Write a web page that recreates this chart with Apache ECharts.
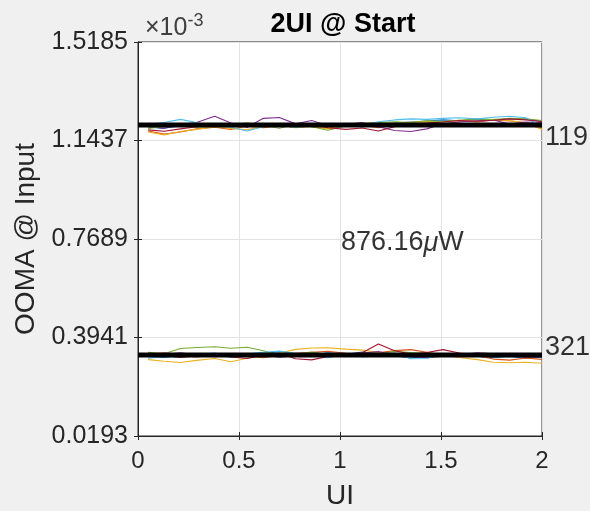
<!DOCTYPE html>
<html><head><meta charset="utf-8">
<script src="https://cdn.jsdelivr.net/npm/echarts@6/dist/echarts.min.js"></script>
<style>html,body{margin:0;padding:0;background:#f0f0f0;}#c{width:590px;height:511px;}</style>
</head><body><div id="c"></div>
<script>
// x positions (UI)
const xs = [0.05,0.13,0.21,0.29,0.38,0.46,0.54,0.62,0.70,0.78,0.86,0.94,1.03,1.11,1.19,1.27,1.35,1.43,1.51,1.59,1.68,1.76,1.84,1.92,2.00];
// y tick labels (x10^-3)
const yTicks = [0.0193, 0.3941, 0.7689, 1.1437, 1.5185];
const xTicks = [0, 0.5, 1, 1.5, 2];
const colors = ['#0072BD','#D95319','#EDB120','#7E2F8E','#77AC30','#4DBEEE','#A2142F'];
// upper band traces (x10^-3)
const upBlue   = [1.195,1.190,1.200,1.208,1.204,1.196,1.200,1.206,1.202,1.193,1.199,1.205,1.200,1.196,1.203,1.210,1.214,1.218,1.222,1.219,1.224,1.221,1.227,1.225,1.216];
const upOrange = [1.180,1.168,1.176,1.188,1.194,1.186,1.198,1.192,1.200,1.205,1.196,1.190,1.199,1.203,1.192,1.206,1.212,1.209,1.216,1.219,1.214,1.222,1.218,1.212,1.190];
const upYellow = [1.176,1.165,1.178,1.186,1.196,1.190,1.184,1.199,1.203,1.192,1.198,1.188,1.202,1.207,1.212,1.208,1.213,1.217,1.214,1.221,1.218,1.224,1.220,1.210,1.186];
const upPurple = [1.198,1.190,1.205,1.212,1.236,1.210,1.193,1.228,1.231,1.207,1.220,1.200,1.205,1.212,1.196,1.182,1.178,1.188,1.208,1.214,1.219,1.222,1.206,1.214,1.212];
const upGreen  = [1.190,1.197,1.202,1.194,1.198,1.204,1.210,1.201,1.190,1.206,1.196,1.183,1.200,1.208,1.212,1.215,1.212,1.219,1.216,1.221,1.226,1.223,1.228,1.226,1.220];
const upCyan   = [1.206,1.212,1.224,1.212,1.198,1.194,1.180,1.196,1.202,1.194,1.200,1.197,1.204,1.201,1.215,1.222,1.226,1.224,1.228,1.230,1.226,1.232,1.236,1.230,1.196];
const upRed    = [1.184,1.179,1.188,1.196,1.202,1.207,1.199,1.208,1.197,1.202,1.207,1.192,1.186,1.191,1.180,1.196,1.204,1.210,1.214,1.220,1.217,1.221,1.226,1.222,1.216];
// lower band traces (x10^-3)
const loBlue   = [0.322,0.318,0.328,0.333,0.326,0.320,0.324,0.334,0.340,0.332,0.325,0.336,0.330,0.339,0.333,0.325,0.316,0.324,0.331,0.328,0.323,0.317,0.322,0.315,0.319];
const loOrange = [0.330,0.336,0.325,0.320,0.327,0.333,0.323,0.317,0.327,0.334,0.338,0.342,0.334,0.329,0.336,0.344,0.348,0.338,0.327,0.320,0.324,0.312,0.308,0.316,0.311];
const loYellow = [0.310,0.304,0.299,0.307,0.314,0.302,0.315,0.326,0.334,0.349,0.354,0.355,0.350,0.346,0.338,0.333,0.329,0.337,0.328,0.318,0.310,0.300,0.298,0.300,0.296];
const loPurple = [0.324,0.330,0.336,0.328,0.321,0.325,0.332,0.328,0.319,0.325,0.330,0.323,0.331,0.335,0.341,0.328,0.321,0.317,0.323,0.328,0.336,0.332,0.325,0.321,0.328];
const loGreen  = [0.338,0.332,0.352,0.356,0.359,0.353,0.357,0.344,0.327,0.331,0.339,0.329,0.323,0.334,0.330,0.342,0.337,0.333,0.324,0.331,0.327,0.333,0.328,0.322,0.326];
const loCyan   = [0.315,0.322,0.318,0.328,0.335,0.325,0.331,0.338,0.343,0.334,0.327,0.317,0.331,0.320,0.324,0.336,0.313,0.314,0.332,0.327,0.322,0.330,0.324,0.320,0.324];
const loRed    = [0.334,0.327,0.318,0.324,0.331,0.320,0.314,0.327,0.334,0.313,0.309,0.322,0.330,0.336,0.369,0.344,0.331,0.337,0.348,0.335,0.326,0.321,0.330,0.318,0.322];
// mean lines
const meanUpper = 1.2027;
const meanLower = 0.3275;
// annotations
const powerText = '876.16';
const powerPos = [1.0, 0.7537];
const rightLabels = ['119', '321'];
const rightLabelY = [1.1532, 0.3541];

const upper = [upBlue,upOrange,upYellow,upPurple,upGreen,upCyan,upRed];
const lower = [loBlue,loOrange,loYellow,loPurple,loGreen,loCyan,loRed];

const Y0 = yTicks[0];
const yStep = yTicks[1] - yTicks[0];
const FONT = '"Liberation Sans", Arial, Helvetica, sans-serif';
const dark = '#262626';

const series = [];
[upper, lower].forEach(band => {
  band.forEach((vals, k) => {
    series.push({
      type: 'line', data: xs.map((x, i) => [x, vals[i] - Y0]),
      symbol: 'none', lineStyle: {width: 1.1, color: colors[k]}, silent: true, z: 2
    });
  });
});
[meanUpper, meanLower].forEach(m => {
  series.push({
    type: 'line', data: [[xTicks[0], m - Y0], [xTicks[xTicks.length-1], m - Y0]],
    symbol: 'none', lineStyle: {width: 5, color: '#000'}, silent: true, z: 3
  });
});
series.push({
  type: 'scatter', symbolSize: 0, clip: false, z: 4,
  data: [[powerPos[0], powerPos[1] - Y0]],
  label: {show: true, position: 'right', distance: 1,
    formatter: '{a|' + powerText + '}{m|μ}{a|W}',
    rich: {a: {fontSize: 27, fontFamily: FONT, color: '#000'},
           m: {fontSize: 27, fontFamily: FONT, color: '#000', fontStyle: 'italic'}}}
});
series.push({
  type: 'scatter', symbolSize: 0, clip: false, z: 4,
  data: rightLabelY.map((y, i) => ({value: [xTicks[xTicks.length-1], y - Y0], name: rightLabels[i]})),
  label: {show: true, position: 'right', distance: 3, formatter: p => p.name,
    fontSize: 27, fontFamily: FONT, color: '#000'}
});

const chart = echarts.init(document.getElementById('c'), null, {renderer: 'canvas'});
chart.setOption({
  backgroundColor: '#f0f0f0',
  animation: false,
  title: [
    {text: '2UI @ Start', left: 338, top: 6, textAlign: 'center',
     textStyle: {fontSize: 27, fontWeight: 'bold', fontFamily: FONT, color: '#000'}},
    {text: '{x|×10}{s|-3}', left: 140, top: 7,
     textStyle: {fontWeight: 'normal',
                 rich: {x: {fontSize: 25, fontWeight: 'normal', fontFamily: FONT, color: '#404040'},
                        s: {fontSize: 18, fontWeight: 'normal', fontFamily: FONT, color: '#404040', padding: [0,0,14,0]}}}}
  ],
  grid: {left: 138, right: 48, top: 42, bottom: 75, show: true, backgroundColor: '#fff',
         borderColor: dark, borderWidth: 1, containLabel: false, outerBoundsMode: 'none'},
  xAxis: [{
    type: 'value', min: xTicks[0], max: xTicks[xTicks.length-1], interval: xTicks[1]-xTicks[0],
    position: 'bottom',
    name: 'UI', nameLocation: 'middle', nameGap: 46,
    nameTextStyle: {fontSize: 28, fontFamily: FONT, color: dark},
    axisLine: {show: true, lineStyle: {color: dark}},
    axisTick: {show: true, inside: true, length: 4, lineStyle: {color: dark}},
    axisLabel: {fontSize: 24, fontFamily: FONT, color: dark, margin: 13},
    splitLine: {show: true, lineStyle: {color: '#e3e3e3', width: 1}}
  }, {
    type: 'value', min: xTicks[0], max: xTicks[xTicks.length-1], interval: xTicks[1]-xTicks[0],
    position: 'top', axisLine: {show: true, lineStyle: {color: dark}},
    axisTick: {show: true, inside: true, length: 4, lineStyle: {color: dark}},
    axisLabel: {show: false}, splitLine: {show: false}
  }],
  yAxis: [{
    type: 'value', min: 0, max: yTicks[yTicks.length-1] - Y0, interval: yStep,
    position: 'left',
    name: 'OOMA @ Input', nameLocation: 'middle', nameGap: 86, nameRotate: 90,
    nameTextStyle: {fontSize: 28, fontFamily: FONT, color: dark},
    axisLine: {show: true, lineStyle: {color: dark}},
    axisTick: {show: true, inside: true, length: 4, lineStyle: {color: dark}},
    axisLabel: {fontSize: 25, fontFamily: FONT, color: dark, margin: 10,
                formatter: v => (v + Y0).toFixed(4)},
    splitLine: {show: true, lineStyle: {color: '#e3e3e3', width: 1}}
  }, {
    type: 'value', min: 0, max: yTicks[yTicks.length-1] - Y0, interval: yStep,
    position: 'right', axisLine: {show: true, lineStyle: {color: dark}},
    axisTick: {show: true, inside: true, length: 4, lineStyle: {color: dark}},
    axisLabel: {show: false}, splitLine: {show: false}
  }],
  series: series
});
</script></body></html>
